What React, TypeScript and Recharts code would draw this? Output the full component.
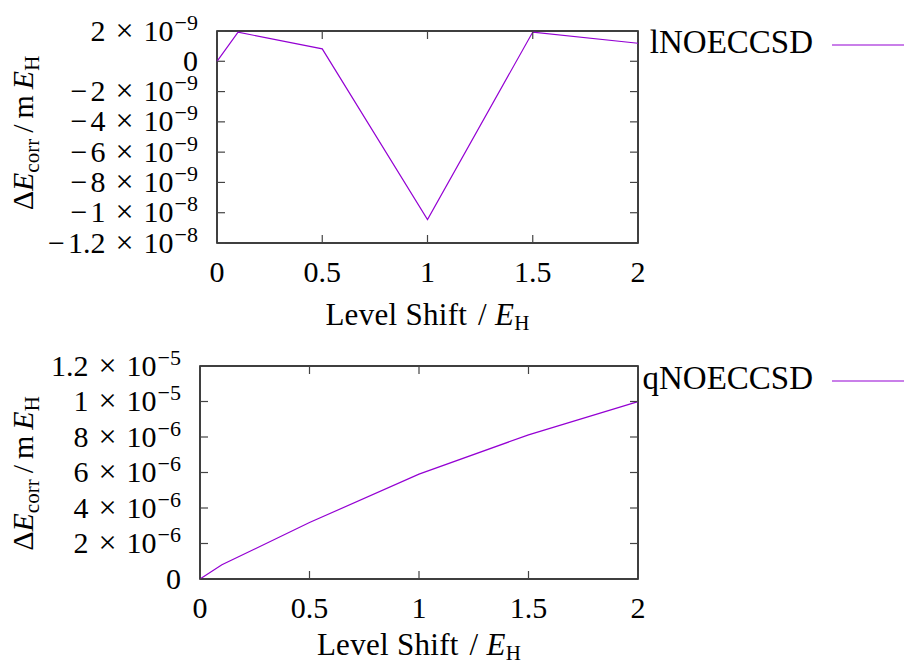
import React from 'react';
import { LineChart, Line, XAxis, YAxis, Legend, ReferenceArea } from 'recharts';

const shift = [0, 0.1, 0.5, 1, 1.5, 2];
const lnoeccsd = [0, 1.92e-9, 0.82e-9, -1.045e-8, 1.93e-9, 1.19e-9];
const qnoeccsd = [0, 0.8e-6, 3.18e-6, 5.91e-6, 8.12e-6, 9.99e-6];

const xTicks = [0, 0.5, 1, 1.5, 2];
const yTicksTop = [-1.2e-8, -1e-8, -8e-9, -6e-9, -4e-9, -2e-9, 0, 2e-9];
const yTicksBottom = [0, 2e-6, 4e-6, 6e-6, 8e-6, 1e-5, 1.2e-5];

const topData = shift.map((x, i) => ({ x, y: lnoeccsd[i] }));
const bottomData = shift.map((x, i) => ({ x, y: qnoeccsd[i] }));

const FONT = '"Liberation Serif", "DejaVu Serif", serif';
const PURPLE = '#9400d3';
const TICK = '#444';

const sci = (v: number) => {
  const neg = v < 0;
  if (v === 0) return { neg, m: '0', e: null as string | null };
  const [m, e] = Math.abs(v).toExponential().split('e');
  return { neg, m, e: e.replace('+', '').replace('-', '\u2212') };
};

// y tick: label on the left plus inward tick marks on both frame sides
const YTick = (props: any) => {
  const { y, payload, frameLeft, frameRight } = props;
  const { neg, m, e } = sci(payload.value);
  return (
    <g>
      <line x1={frameLeft} x2={frameLeft + 8} y1={y} y2={y} stroke={TICK} strokeWidth={1.2} />
      <line x1={frameRight - 8} x2={frameRight} y1={y} y2={y} stroke={TICK} strokeWidth={1.2} />
      <text x={frameLeft - 19} y={y} dy={9.5} textAnchor="end" fontFamily={FONT} fontSize={30} fill="#000">
        {neg && <tspan>{'\u2212'}</tspan>}
        <tspan dx={neg ? 3 : 0}>{m}</tspan>
        {e !== null && (
          <>
            <tspan>{'\u2004'}</tspan>
            <tspan fontSize={32}>{'\u00d7'}</tspan>
            <tspan>{'\u200410'}</tspan>
            <tspan dy={-11} dx={1} fontSize={22}>{e}</tspan>
          </>
        )}
      </text>
    </g>
  );
};

const XTick = (props: any) => {
  const { x, payload, frameTop, frameBottom } = props;
  return (
    <g>
      <line x1={x} x2={x} y1={frameBottom} y2={frameBottom - 8} stroke={TICK} strokeWidth={1.2} />
      <line x1={x} x2={x} y1={frameTop} y2={frameTop + 8} stroke={TICK} strokeWidth={1.2} />
      <text x={x} y={frameBottom + 19} dy={20} textAnchor="middle" fontFamily={FONT} fontSize={30} fill="#000">
        {payload.value}
      </text>
    </g>
  );
};

const xTitle = (off: number) => (props: any) => {
  const vb = props.viewBox || {};
  return (
    <text
      x={vb.x + vb.width / 2}
      y={vb.y + off}
      textAnchor="middle"
      fontFamily={FONT}
      fontSize={31}
      letterSpacing={0.3}
      fill="#000"
    >
      {'Level Shift\u2004/\u2005'}
      <tspan fontStyle="italic">E</tspan>
      <tspan dy={5} fontSize={21}>H</tspan>
    </text>
  );
};

const yTitle = (shiftY: number) => (props: any) => {
  const vb = props.viewBox || {};
  const cy = vb.y + vb.height / 2 + shiftY;
  return (
    <text
      x={33}
      y={cy}
      transform={`rotate(-90, 33, ${cy})`}
      textAnchor="middle"
      fontFamily={FONT}
      fontSize={30}
      fill="#000"
    >
      Δ<tspan fontStyle="italic">E</tspan>
      <tspan dy={6} fontSize={21}>corr</tspan>
      <tspan dy={-6}>{'\u2009/\u2009m\u2009'}</tspan>
      <tspan fontStyle="italic">E</tspan>
      <tspan dy={6} fontSize={21}>H</tspan>
    </text>
  );
};

const KeyBox = (props: any) => {
  const item = (props.payload || [])[0];
  if (!item) return null;
  return (
    <svg width={264} height={44}>
      <text x={173} y={31} textAnchor="end" fontFamily={FONT} fontSize={33} fill="#000">
        {item.value}
      </text>
      <line x1={192} x2={264} y1={23} y2={23} stroke={item.color} strokeWidth={1.2} />
    </svg>
  );
};

interface PanelProps {
  data: { x: number; y: number }[];
  name: string;
  yDomain: [number, number];
  yTicks: number[];
  top: number;
  height: number;
  frame: { left: number; right: number; top: number; bottom: number };
  titleOff: number;
  yTitleShift: number;
  keyTop: number;
}

const Panel: React.FC<PanelProps> = ({ data, name, yDomain, yTicks, top, height, frame, titleOff, yTitleShift, keyTop }) => (
  <div style={{ position: 'absolute', left: 0, top, width: 904, height }}>
    <LineChart
      width={904}
      height={height}
      data={data}
      margin={{ top: frame.top, right: 904 - frame.right, bottom: 0, left: 0 }}
    >
      <XAxis
        dataKey="x"
        type="number"
        domain={[0, 2]}
        ticks={xTicks}
        interval={0}
        height={height - frame.bottom}
        tickSize={0}
        tick={<XTick frameTop={frame.top} frameBottom={frame.bottom} />}
        axisLine={false}
        tickLine={false}
        label={xTitle(titleOff)}
      />
      <YAxis
        type="number"
        domain={yDomain}
        ticks={yTicks}
        interval={0}
        width={frame.left}
        tickSize={0}
        tick={<YTick frameLeft={frame.left} frameRight={frame.right} />}
        axisLine={false}
        tickLine={false}
        label={yTitle(yTitleShift)}
      />
      <ReferenceArea
        x1={0}
        x2={2}
        y1={yDomain[0]}
        y2={yDomain[1]}
        fill="none"
        fillOpacity={0}
        stroke="#000"
        strokeWidth={1.5}
        ifOverflow="visible"
      />
      <Legend
        layout="horizontal"
        verticalAlign="middle"
        align="center"
        wrapperStyle={{ top: keyTop, left: 640, width: 264, height: 44 }}
        content={<KeyBox />}
      />
      <Line
        type="linear"
        dataKey="y"
        name={name}
        stroke={PURPLE}
        strokeWidth={1.2}
        dot={false}
        isAnimationActive={false}
      />
    </LineChart>
  </div>
);

export default function App() {
  return (
    <div style={{ position: 'absolute', left: 0, top: 0, width: 904, height: 664, background: '#fff', overflow: 'hidden' }}>
      <Panel
        data={topData}
        name="lNOECCSD"
        yDomain={[-1.2e-8, 2e-9]}
        yTicks={yTicksTop}
        top={0}
        height={345}
        frame={{ left: 217, right: 638, top: 31, bottom: 243 }}
        titleOff={82}
        yTitleShift={-4}
        keyTop={22}
      />
      <Panel
        data={bottomData}
        name="qNOECCSD"
        yDomain={[0, 1.2e-5]}
        yTicks={yTicksBottom}
        top={332}
        height={332}
        frame={{ left: 200, right: 638, top: 34, bottom: 247 }}
        titleOff={76}
        yTitleShift={1}
        keyTop={26}
      />
    </div>
  );
}
